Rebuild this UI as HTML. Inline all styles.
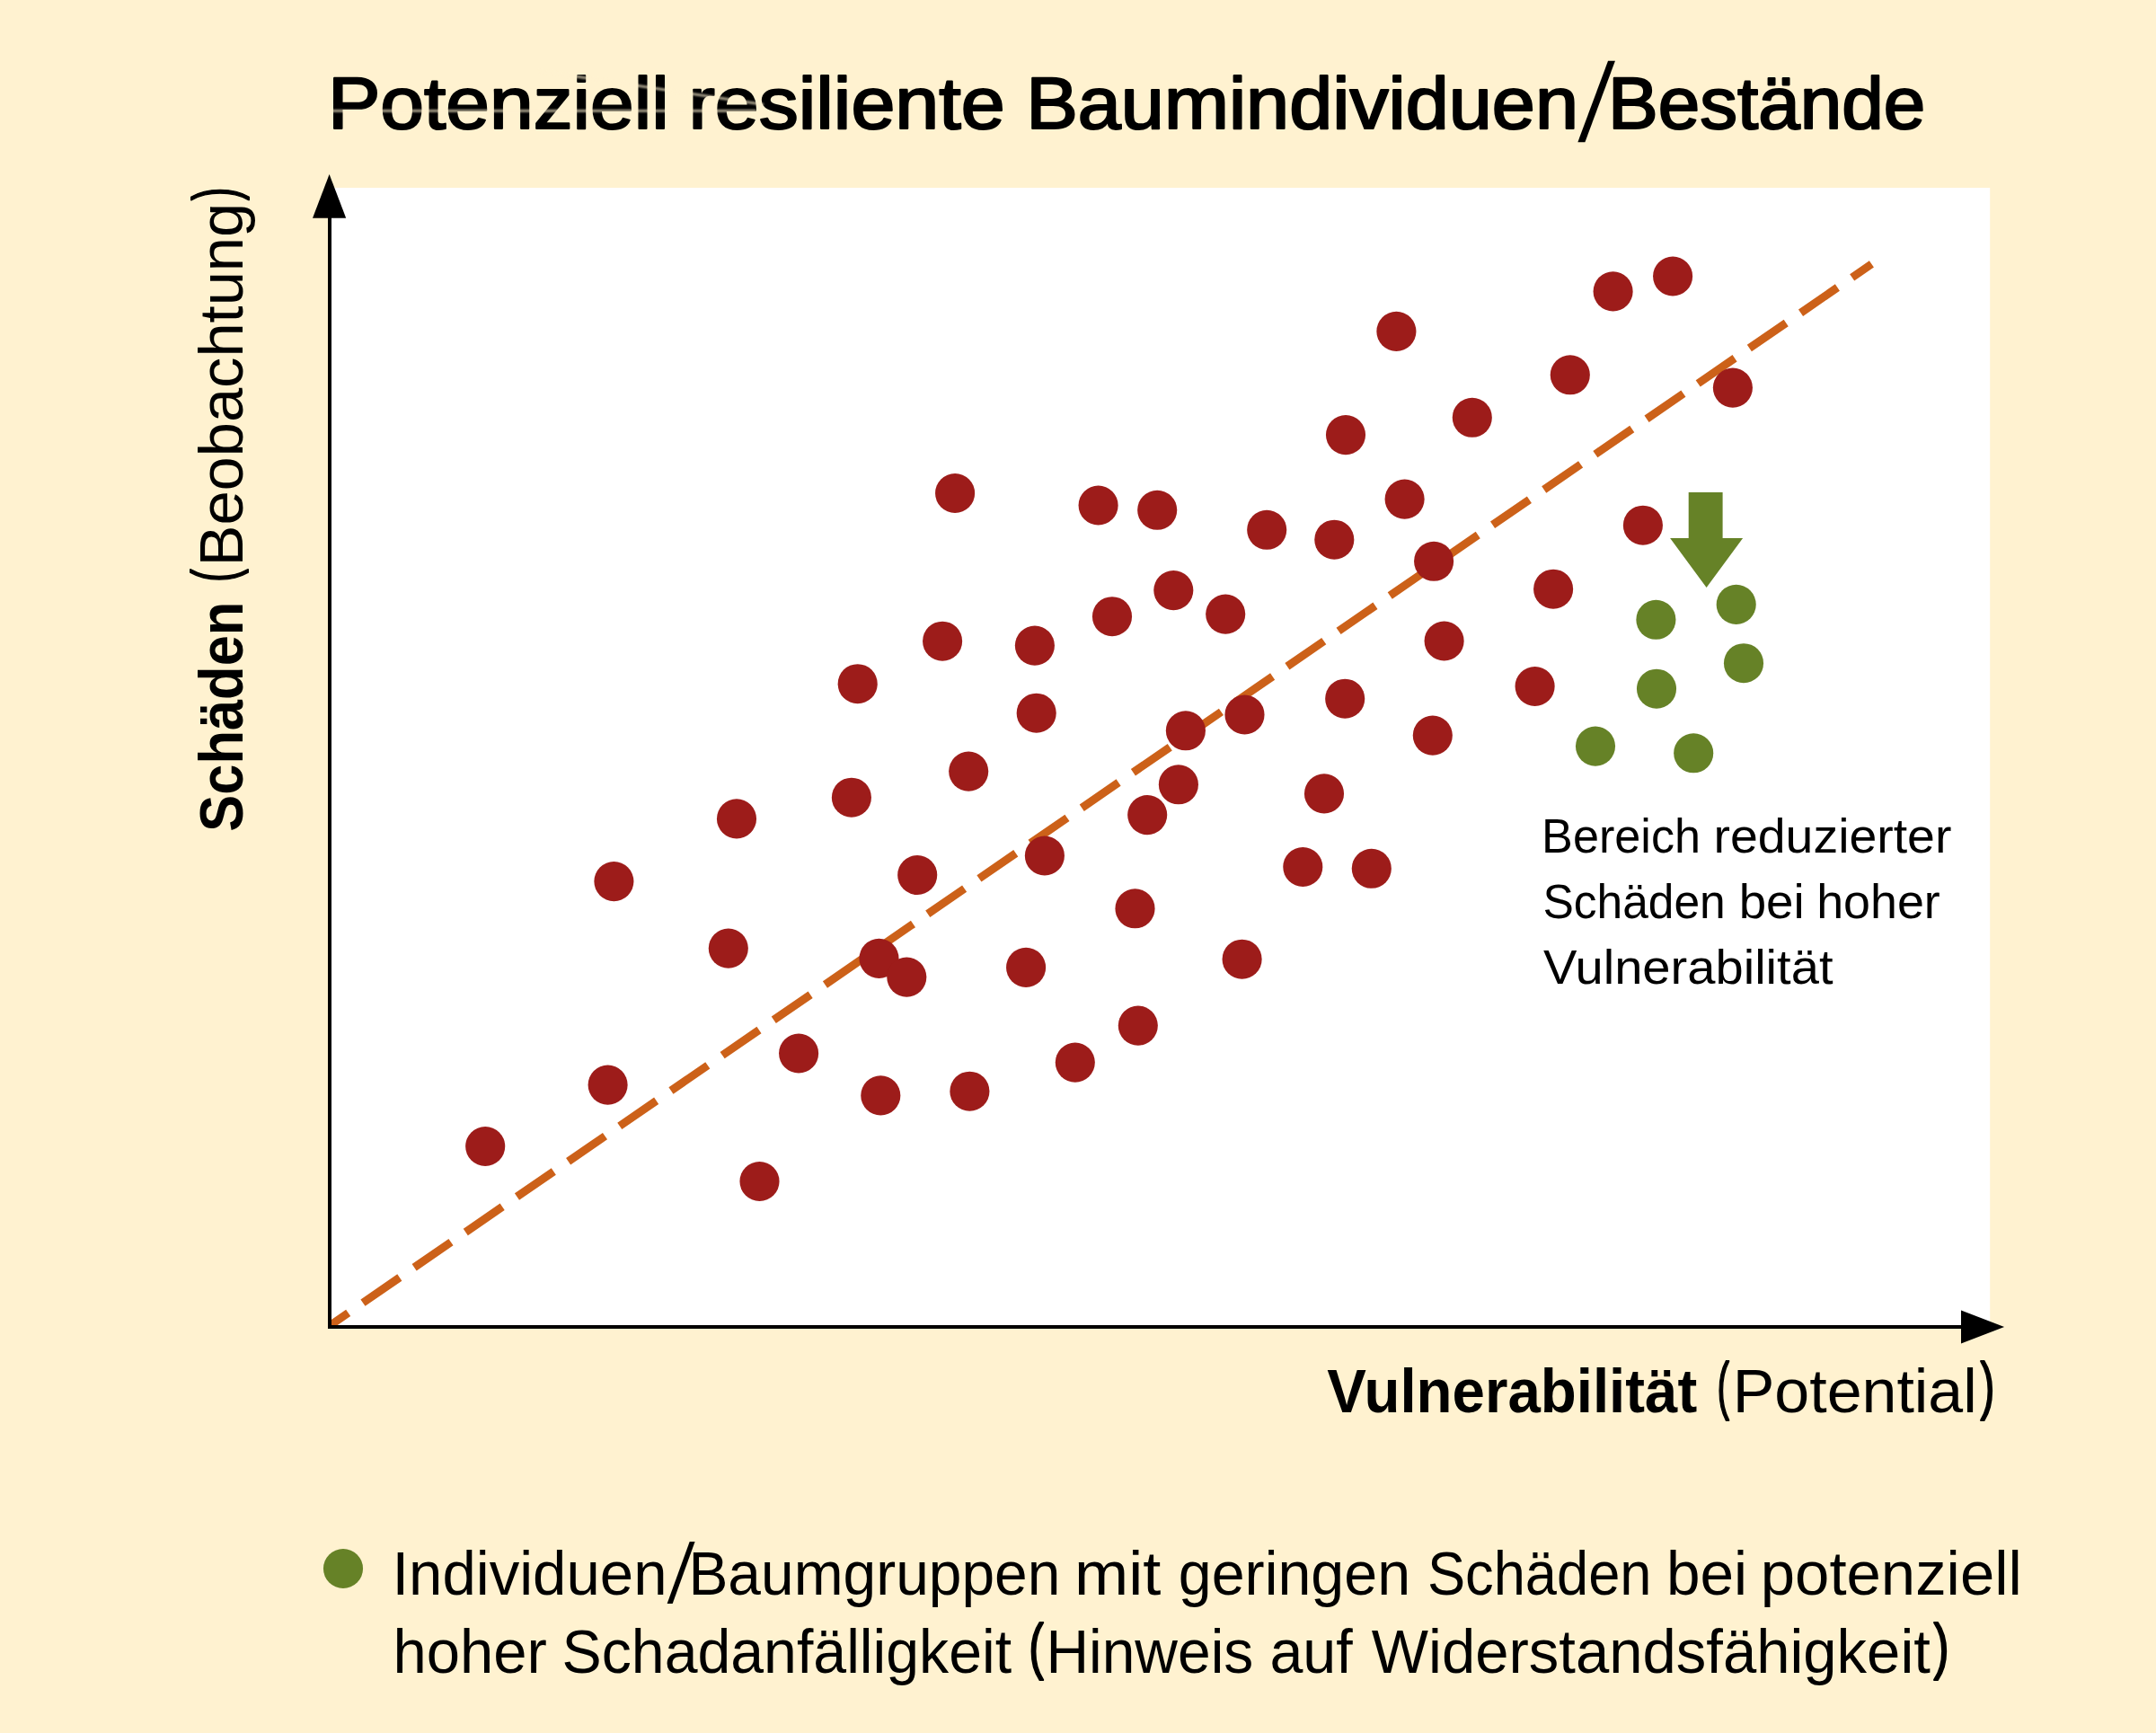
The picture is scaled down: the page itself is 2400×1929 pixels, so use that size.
<!DOCTYPE html>
<html lang="de">
<head>
<meta charset="utf-8">
<title>Potenziell resiliente Baumindividuen/Bestände</title>
<style>
html,body{margin:0;padding:0;background:#FFF2D0;}
body{width:2400px;height:1929px;overflow:hidden;}
svg{display:block;}
text{font-family:"Liberation Sans",sans-serif;fill:#000;stroke-linejoin:round;}
</style>
</head>
<body>
<svg width="2400" height="1929" viewBox="0 0 2400 1929">
<defs><filter id="soft" x="-5%" y="-200%" width="110%" height="500%"><feGaussianBlur stdDeviation="1.1"/></filter><clipPath id="plot"><rect x="367.0" y="209.1" width="1848.2" height="1267.9"/></clipPath></defs>
<rect x="0" y="0" width="2400" height="1929" fill="#FFF2D0"/>
<!-- plot area -->
<rect x="367.0" y="209.1" width="1848.2" height="1267.9" fill="#FFFFFF"/>
<!-- trend line -->
<g clip-path="url(#plot)">
<line x1="367" y1="1475.6" x2="2083.4" y2="293.9" stroke="#CC6119" stroke-width="9" stroke-dasharray="49.6 19.8" stroke-dashoffset="24.5"/>
</g>
<!-- axes -->
<path d="M367 240 V1477 H2190" fill="none" stroke="#000" stroke-width="4" stroke-linejoin="miter"/>
<path d="M366.6 194.1 L348 242.8 H385.2 Z" fill="#000"/>
<path d="M2231.1 1477 L2183 1458.4 V1495.6 Z" fill="#000"/>
<!-- data points -->
<g fill="#9D1C1A">
<circle cx="1063.1" cy="549.0" r="22.05"/>
<circle cx="1049.1" cy="713.7" r="22.05"/>
<circle cx="954.7" cy="761.2" r="22.05"/>
<circle cx="1078.2" cy="858.6" r="22.05"/>
<circle cx="947.9" cy="887.7" r="22.05"/>
<circle cx="820.0" cy="911.4" r="22.05"/>
<circle cx="683.4" cy="981.1" r="22.05"/>
<circle cx="1021.2" cy="974.0" r="22.05"/>
<circle cx="810.8" cy="1055.6" r="22.05"/>
<circle cx="978.5" cy="1066.9" r="22.05"/>
<circle cx="1009.3" cy="1087.6" r="22.05"/>
<circle cx="889.1" cy="1172.5" r="22.05"/>
<circle cx="676.6" cy="1207.6" r="22.05"/>
<circle cx="980.3" cy="1219.4" r="22.05"/>
<circle cx="1079.4" cy="1214.7" r="22.05"/>
<circle cx="540.2" cy="1276.0" r="22.05"/>
<circle cx="845.5" cy="1315.0" r="22.05"/>
<circle cx="1554.4" cy="368.9" r="22.05"/>
<circle cx="1747.8" cy="417.3" r="22.05"/>
<circle cx="1638.8" cy="464.8" r="22.05"/>
<circle cx="1498.0" cy="484.1" r="22.05"/>
<circle cx="1563.6" cy="555.6" r="22.05"/>
<circle cx="1222.6" cy="562.5" r="22.05"/>
<circle cx="1288.2" cy="567.8" r="22.05"/>
<circle cx="1410.2" cy="589.8" r="22.05"/>
<circle cx="1485.3" cy="600.7" r="22.05"/>
<circle cx="1596.1" cy="624.8" r="22.05"/>
<circle cx="1729.1" cy="655.7" r="22.05"/>
<circle cx="1306.3" cy="657.1" r="22.05"/>
<circle cx="1238.0" cy="686.2" r="22.05"/>
<circle cx="1364.2" cy="683.6" r="22.05"/>
<circle cx="1151.9" cy="718.6" r="22.05"/>
<circle cx="1607.6" cy="713.5" r="22.05"/>
<circle cx="1708.6" cy="764.0" r="22.05"/>
<circle cx="1497.2" cy="777.7" r="22.05"/>
<circle cx="1153.7" cy="793.7" r="22.05"/>
<circle cx="1385.5" cy="795.5" r="22.05"/>
<circle cx="1319.9" cy="813.3" r="22.05"/>
<circle cx="1594.8" cy="818.6" r="22.05"/>
<circle cx="1311.9" cy="873.3" r="22.05"/>
<circle cx="1474.0" cy="883.4" r="22.05"/>
<circle cx="1277.2" cy="907.1" r="22.05"/>
<circle cx="1162.9" cy="952.5" r="22.05"/>
<circle cx="1450.3" cy="965.0" r="22.05"/>
<circle cx="1526.8" cy="966.8" r="22.05"/>
<circle cx="1263.5" cy="1011.3" r="22.05"/>
<circle cx="1382.6" cy="1067.7" r="22.05"/>
<circle cx="1142.1" cy="1076.9" r="22.05"/>
<circle cx="1266.8" cy="1141.6" r="22.05"/>
<circle cx="1196.8" cy="1182.6" r="22.05"/>
<circle cx="1862.1" cy="307.5" r="22.05"/>
<circle cx="1795.6" cy="324.4" r="22.05"/>
<circle cx="1928.9" cy="431.6" r="22.05"/>
<circle cx="1828.9" cy="584.7" r="22.05"/>
</g>
<g fill="#668227">
<circle cx="1932.7" cy="672.9" r="22.05"/>
<circle cx="1843.4" cy="689.8" r="22.05"/>
<circle cx="1941.0" cy="738.2" r="22.05"/>
<circle cx="1844.0" cy="766.7" r="22.05"/>
<circle cx="1776.0" cy="830.6" r="22.05"/>
<circle cx="1885.2" cy="838.3" r="22.05"/>
<path d="M1879.7 547.9 H1917.6 V599.1 H1940.1 L1899.6 653.9 L1859.1 599.1 H1879.7 Z"/>
<circle cx="382" cy="1746" r="22.05"/>
</g>
<!-- title -->
<g id="title">
<text x="364.9" y="142.6" font-size="82.0" textLength="379.7" lengthAdjust="spacingAndGlyphs" stroke="#000" stroke-width="2.2">Potenziell</text>
<text x="766.4" y="142.6" font-size="82.0" textLength="352.4" lengthAdjust="spacingAndGlyphs" stroke="#000" stroke-width="2.2">resiliente</text>
<text x="1142.2" y="142.6" font-size="82.0" textLength="614.8" lengthAdjust="spacingAndGlyphs" stroke="#000" stroke-width="2.2">Baumindividuen</text><text transform="matrix(1.0240 0 -0.1791 1.2337 1756.57 156.70)" font-size="100">/</text><text x="1789.9" y="142.6" font-size="82.0" textLength="353.4" lengthAdjust="spacingAndGlyphs" stroke="#000" stroke-width="2.2">Bestände</text>
</g>
<!-- faint erased-line artefacts crossing the title -->
<g stroke="#FFF2D0" stroke-width="2.8" opacity="0.7" filter="url(#soft)">
<line x1="366" y1="123.3" x2="842" y2="123.3"/>
<line x1="600" y1="78.9" x2="850" y2="116.4"/>
</g>
<!-- y axis label -->
<g id="ylabel" transform="rotate(-90)">
<text x="-925.7" y="269.5" font-size="68.0" textLength="256.0" lengthAdjust="spacingAndGlyphs" font-weight="bold">Schäden</text>
<text x="-647.8" y="262.3" font-size="69.1" textLength="14.3" lengthAdjust="spacingAndGlyphs" stroke="#000" stroke-width="2.0">(</text><text x="-630.4" y="269.5" font-size="68.0" textLength="404.6" lengthAdjust="spacingAndGlyphs">Beobachtung</text><text x="-222.9" y="262.9" font-size="69.2" textLength="14.3" lengthAdjust="spacingAndGlyphs" stroke="#000" stroke-width="2.0">)</text>
</g>
<!-- x axis label -->
<g id="xlabel">
<text x="1477.2" y="1572.0" font-size="68.0" textLength="412.1" lengthAdjust="spacingAndGlyphs" font-weight="bold">Vulnerabilität</text>
<text x="1911.6" y="1565.6" font-size="69.5" textLength="13.5" lengthAdjust="spacingAndGlyphs" stroke="#000" stroke-width="2.0">(</text><text x="1928.7" y="1572.0" font-size="68.0" textLength="272.1" lengthAdjust="spacingAndGlyphs">Potential</text><text x="2204.6" y="1565.6" font-size="69.5" textLength="15.9" lengthAdjust="spacingAndGlyphs" stroke="#000" stroke-width="2.0">)</text>
</g>
<!-- annotation -->
<g id="annotation">
<text x="1716.1" y="948.5" font-size="54.0" textLength="176.9" lengthAdjust="spacingAndGlyphs">Bereich</text>
<text x="1907.5" y="948.5" font-size="54.0" textLength="264.9" lengthAdjust="spacingAndGlyphs">reduzierter</text>
<text x="1717.4" y="1021.8" font-size="54.0" textLength="203.3" lengthAdjust="spacingAndGlyphs">Schäden</text>
<text x="1935.7" y="1021.8" font-size="54.0" textLength="73.0" lengthAdjust="spacingAndGlyphs">bei</text>
<text x="2022.2" y="1021.8" font-size="54.0" textLength="137.6" lengthAdjust="spacingAndGlyphs">hoher</text>
<text x="1718.1" y="1095.0" font-size="54.0" textLength="322.4" lengthAdjust="spacingAndGlyphs">Vulnerabilität</text>
</g>
<!-- legend -->
<g id="legend">
<text x="436.4" y="1775.3" font-size="68.0" textLength="306.1" lengthAdjust="spacingAndGlyphs">Individuen</text><text transform="matrix(0.7680 0 -0.1319 0.9396 742.83 1783.88)" font-size="100">/</text><text x="766.4" y="1775.3" font-size="68.0" textLength="414.0" lengthAdjust="spacingAndGlyphs">Baumgruppen</text>
<text x="1196.1" y="1775.3" font-size="68.0" textLength="96.3" lengthAdjust="spacingAndGlyphs">mit</text>
<text x="1311.8" y="1775.3" font-size="68.0" textLength="258.3" lengthAdjust="spacingAndGlyphs">geringen</text>
<text x="1588.9" y="1775.3" font-size="68.0" textLength="249.6" lengthAdjust="spacingAndGlyphs">Schäden</text>
<text x="1855.0" y="1775.3" font-size="68.0" textLength="90.0" lengthAdjust="spacingAndGlyphs">bei</text>
<text x="1959.8" y="1775.3" font-size="68.0" textLength="291.0" lengthAdjust="spacingAndGlyphs">potenziell</text>
<text x="437.4" y="1862.3" font-size="68.0" textLength="171.3" lengthAdjust="spacingAndGlyphs">hoher</text>
<text x="625.6" y="1862.3" font-size="68.0" textLength="500.5" lengthAdjust="spacingAndGlyphs">Schadanfälligkeit</text>
<text x="1145.2" y="1856.1" font-size="68.2" textLength="16.5" lengthAdjust="spacingAndGlyphs" stroke="#000" stroke-width="2.0">(</text><text x="1164.4" y="1862.3" font-size="68.0" textLength="230.9" lengthAdjust="spacingAndGlyphs">Hinweis</text>
<text x="1413.4" y="1862.3" font-size="68.0" textLength="92.3" lengthAdjust="spacingAndGlyphs">auf</text>
<text x="1526.8" y="1862.3" font-size="68.0" textLength="622.1" lengthAdjust="spacingAndGlyphs">Widerstandsfähigkeit</text><text x="2152.4" y="1856.1" font-size="68.2" textLength="17.1" lengthAdjust="spacingAndGlyphs" stroke="#000" stroke-width="2.0">)</text>
</g>
</svg>
</body>
</html>
